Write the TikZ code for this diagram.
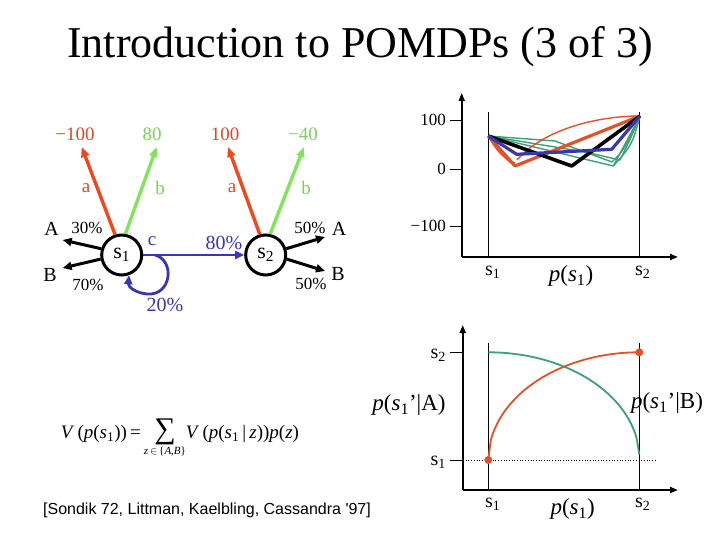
\documentclass[tikz,border=0pt]{standalone}
\usepackage{fontspec}
\setmainfont{Liberation Serif}
\newfontfamily\citefont{Liberation Sans}
\definecolor{rewred}{RGB}{238,72,30}
\definecolor{lblred}{RGB}{205,78,45}
\definecolor{rewgreen}{RGB}{132,226,92}
\definecolor{lblgreen}{RGB}{125,208,92}
\definecolor{actblue}{RGB}{55,55,178}
\definecolor{vecteal}{RGB}{62,160,118}
\definecolor{vecred}{RGB}{226,82,40}
\usetikzlibrary{arrows.meta,positioning}
\newcommand{\fsz}[1]{\fontsize{#1}{#1}\selectfont}

\begin{document}
\begin{tikzpicture}[x=1pt,y=-1pt,
  state/.style={circle,draw,line width=3pt,minimum size=40pt,inner sep=0pt,font=\fsz{22}},
  rew/.style={line width=3.4pt,-{Triangle[length=10pt,width=8pt]}},
  obs/.style={line width=3pt,-{Triangle[length=9pt,width=8pt]}},
  axis/.style={line width=1.8pt,-{Triangle[length=8pt,width=6pt]}},
  tick/.style={line width=0.8pt},
  vec/.style={line width=1.4pt,line join=round},
  vecthick/.style={line width=3.2pt,line join=round},
  lbl/.style={inner sep=0pt,font=\fsz{19}},
  pct/.style={inner sep=0pt,font=\fsz{17}},
  ticklbl/.style={inner sep=0pt,anchor=east,font=\fsz{17}},
  axlbl/.style={inner sep=0pt,font=\fsz{20}},
  dot/.style={circle,fill=vecred,inner sep=0pt,minimum size=8pt}]
  \fill[white] (0,0) rectangle (720,540);
  \useasboundingbox (0,0) rectangle (720,540);

  % Title
  \node[inner sep=0pt,font=\fsz{44}] (title) at (360,47) {Introduction to POMDPs (3 of 3)};

  % States
  \node[state] (s1) at (121.7,255) {s\textsubscript{1}};
  \node[state] (s2) at (265.7,255) {s\textsubscript{2}};

  % Rewards of s1
  \node[lbl,text=lblred] (r1a) at (75,134) {−100};
  \node[lbl,text=lblgreen] (r1b) at (152,134) {80};
  \coordinate (t1a) at (81.7,147);
  \coordinate (t1b) at (156.7,147);
  \draw[rew,rewred] (s1.108) -- (t1a);
  \draw[rew,rewgreen] (s1.80) -- (t1b);
  \node[lbl,text=lblred] (l1a) at (86,188) {a};
  \node[lbl,text=lblgreen] (l1b) at (160,188) {b};

  % Rewards of s2
  \node[lbl,text=lblred] (r2a) at (225,134) {100};
  \node[lbl,text=lblgreen] (r2b) at (303,134) {−40};
  \coordinate (t2a) at (228,147);
  \coordinate (t2b) at (304,147);
  \draw[rew,rewred] (s2.106) -- (t2a);
  \draw[rew,rewgreen] (s2.78) -- (t2b);
  \node[lbl,text=lblred] (l2a) at (232,188) {a};
  \node[lbl,text=lblgreen] (l2b) at (306,188) {b};

  % Observations
  \node[lbl,font=\fsz{20}] (oA1) at (51.7,229) {A};
  \node[lbl,font=\fsz{20}] (oB1) at (50,275) {B};
  \node[pct] (p1A) at (87,228) {30\%};
  \node[pct] (p1B) at (88,285) {70\%};
  \coordinate (e1A) at (62.7,240);
  \coordinate (e1B) at (62.7,268);
  \draw[obs] (s1.163) -- (e1A);
  \draw[obs] (s1.191) -- (e1B);

  \node[lbl,font=\fsz{20}] (oA2) at (339,229) {A};
  \node[lbl,font=\fsz{20}] (oB2) at (338,274) {B};
  \node[pct] (p2A) at (310,228) {50\%};
  \node[pct] (p2B) at (311,284) {50\%};
  \coordinate (e2A) at (325,237);
  \coordinate (e2B) at (325,271);
  \draw[obs] (s2.17) -- (e2A);
  \draw[obs] (s2.-11) -- (e2B);

  % Action c
  \draw[line width=2.8pt,actblue,-{Triangle[length=9pt,width=8pt]}] (s1.east) -- (s2.west);
  \coordinate (loop) at (155,255);
  \draw[line width=2.8pt,actblue,-{Triangle[length=9pt,width=8pt]}]
    (loop) .. controls (175,260) and (172,296) .. (147,294)
    .. controls (136,293) and (128,287) .. (s1.-70);
  \node[lbl,text=actblue] (lc) at (152,241) {c};
  \node[lbl,text=actblue,font=\fsz{20}] (p80) at (224,243) {80\%};
  \node[lbl,text=actblue,font=\fsz{20}] (p20) at (165,305) {20\%};

  % Value function plot
  \draw[axis] (461.7,257) -- (461.7,93);
  \draw[axis] (461.7,257) -- (678,257);
  \foreach \yy/\val in {120/100,169.3/0,226/−100} {
    \draw[tick] (450,\yy) -- (461.7,\yy);
    \node[ticklbl] (v\val) at (446,\yy) {\val};
  }
  \draw[tick] (488.3,111.7) -- (488.3,257);
  \draw[tick] (639.3,111.7) -- (639.3,257);
  \coordinate (L) at (488.3,136);
  \coordinate (R) at (640,116);
  \draw[vec,vecteal] (L) -- (613.3,166) -- (R);
  \draw[vec,vecteal] (L) -- (555,141) -- (612,162) .. controls (624,150) .. (R);
  \draw[vec,vecteal] (613.3,166) .. controls (632,145) .. (R);
  \draw[vec,vecteal] (L) -- (585,152) -- (620,160) .. controls (630,140) .. (R);
  \draw[vec,vecred] (L) .. controls (498,152) .. (515,166);
  \draw[vec,vecred] (L) .. controls (495,148) and (505,160) .. (515,163);
  \draw[vec,vecred] (517,160) .. controls (545,128) and (600,116) .. (R);
  \draw[vecthick,vecred] (L) -- (515,166) -- (R);
  \draw[vecthick,black,line width=3.6pt] (L) -- (571.7,166) -- (R);
  \draw[vecthick,actblue] (L) -- (516.7,154.3) -- (611.7,149.3) -- (R);
  \node[axlbl] (vx1) at (492.7,272) {s\textsubscript{1}};
  \node[axlbl,font=\fsz{23}] (vxp) at (571,276) {\textit{p}(\textit{s}\textsubscript{1})};
  \node[axlbl] (vx2) at (642.7,272) {s\textsubscript{2}};

  % Belief update plot
  \draw[axis] (462.7,490) -- (462.7,325);
  \draw[axis] (462.7,490) -- (678,490);
  \draw[tick] (450,352.3) -- (462.7,352.3);
  \draw[tick] (450,460) -- (462.7,460);
  \node[ticklbl,font=\fsz{20}] (by2) at (446,355) {s\textsubscript{2}};
  \node[ticklbl,font=\fsz{20}] (by1) at (446,462) {s\textsubscript{1}};
  \draw[tick] (488.3,343.3) -- (488.3,490);
  \draw[tick] (639.3,343.3) -- (639.3,490);
  \draw[line width=0.7pt,dotted] (463,460) -- (657,460);
  \draw[line width=1.8pt,vecteal] plot[domain=0:1,samples=60,smooth]
    ({488.3+151*\x},{352.3+106*(1-sqrt(1-\x*\x))});
  \draw[line width=1.8pt,vecred] plot[domain=0:1,samples=60,smooth]
    ({488.3+151*\x},{460-107.7*sqrt(1-(1-\x)*(1-\x))});
  \node[dot] (d1) at (488.3,460) {};
  \node[dot] (d2) at (639.3,352.3) {};
  \node[axlbl,font=\fsz{23}] (pa) at (409,405) {\textit{p}(\textit{s}\textsubscript{1}’|A)};
  \node[axlbl,font=\fsz{23}] (pb) at (667,403) {\textit{p}(\textit{s}\textsubscript{1}’|B)};
  \node[axlbl] (bx1) at (492.7,504) {s\textsubscript{1}};
  \node[axlbl,font=\fsz{23}] (bxp) at (572.7,509) {\textit{p}(\textit{s}\textsubscript{1})};
  \node[axlbl] (bx2) at (642.7,504) {s\textsubscript{2}};

  % Formula and reference
  \node[inner sep=0pt,font=\fsz{19}] (eq) at (180,438)
    {\textit{V}\,(\textit{p}(\textit{s}\textsubscript{1}))\,=\,$\mathop{\hbox{\fsz{30}∑}}\limits_{\hbox{\fsz{11}\textit{z}\,$\in$\,\{\textit{A},\textit{B}\}}}$\textit{V}\,(\textit{p}(\textit{s}\textsubscript{1}\,|\,\textit{z}))\textit{p}(\textit{z})};
  \node[inner sep=0pt,font=\citefont\fsz{16}] (ref) at (207,510)
    {[Sondik 72, Littman, Kaelbling, Cassandra '97]};
\end{tikzpicture}
\end{document}
